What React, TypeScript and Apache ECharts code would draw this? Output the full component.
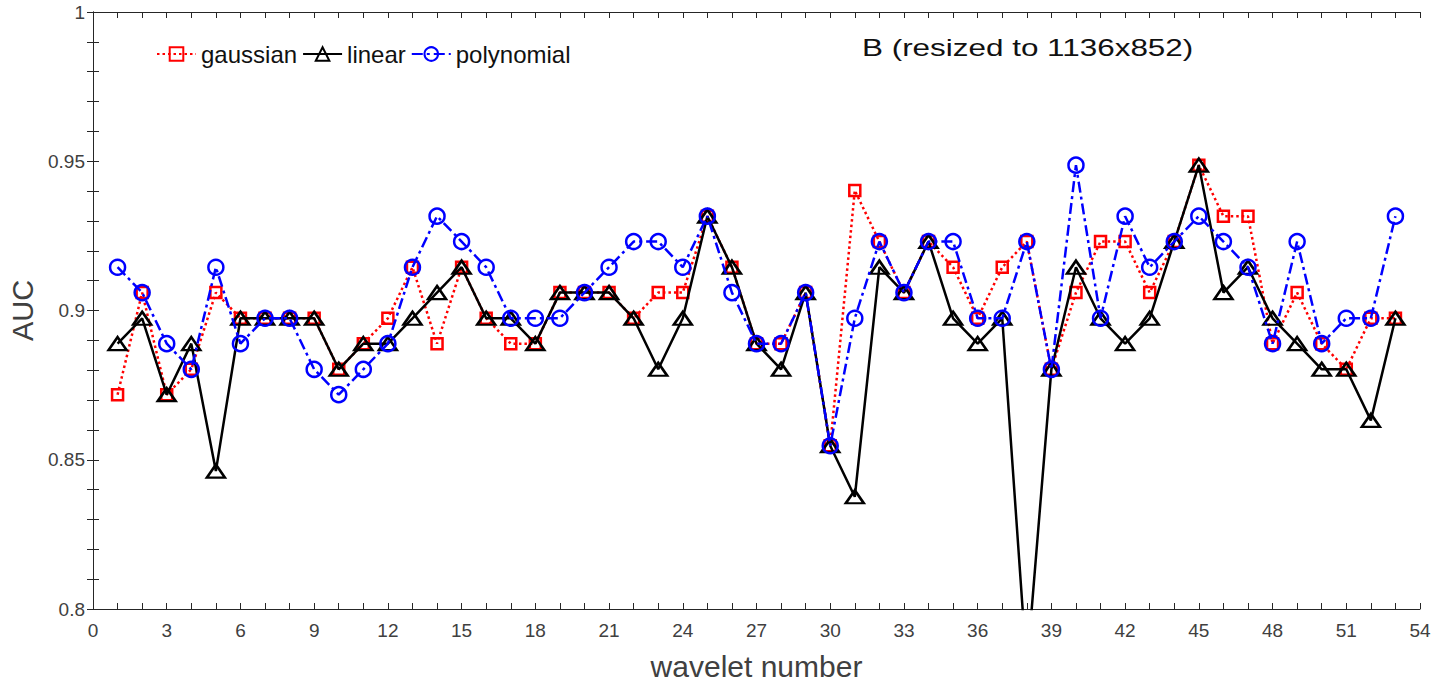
import React, { useEffect, useRef } from "react";
import * as echarts from "echarts";

const waveletNumbers = Array.from({ length: 53 }, (_, i) => i + 1);

const gaussian = [
  0.8718, 0.906, 0.8718, 0.8803, 0.906, 0.8974, 0.8974, 0.8974, 0.8974, 0.8803,
  0.8889, 0.8974, 0.9145, 0.8889, 0.9145, 0.8974, 0.8889, 0.8889, 0.906, 0.906,
  0.906, 0.8974, 0.906, 0.906, 0.9316, 0.9145, 0.8889, 0.8889, 0.906, 0.8547,
  0.9402, 0.9231, 0.906, 0.9231, 0.9145, 0.8974, 0.9145, 0.9231, 0.8803, 0.906,
  0.9231, 0.9231, 0.906, 0.9231, 0.9487, 0.9316, 0.9316, 0.8889, 0.906, 0.8889,
  0.8803, 0.8974, 0.8974,
];

const linear = [
  0.8889, 0.8974, 0.8718, 0.8889, 0.8462, 0.8974, 0.8974, 0.8974, 0.8974, 0.8803,
  0.8889, 0.8889, 0.8974, 0.906, 0.9145, 0.8974, 0.8974, 0.8889, 0.906, 0.906,
  0.906, 0.8974, 0.8803, 0.8974, 0.9316, 0.9145, 0.8889, 0.8803, 0.906, 0.8547,
  0.8376, 0.9145, 0.906, 0.9231, 0.8974, 0.8889, 0.8974, 0.78, 0.8803, 0.9145,
  0.8974, 0.8889, 0.8974, 0.9231, 0.9487, 0.906, 0.9145, 0.8974, 0.8889, 0.8803,
  0.8803, 0.8632, 0.8974,
];

const polynomial = [
  0.9145, 0.906, 0.8889, 0.8803, 0.9145, 0.8889, 0.8974, 0.8974, 0.8803, 0.8718,
  0.8803, 0.8889, 0.9145, 0.9316, 0.9231, 0.9145, 0.8974, 0.8974, 0.8974, 0.906,
  0.9145, 0.9231, 0.9231, 0.9145, 0.9316, 0.906, 0.8889, 0.8889, 0.906, 0.8547,
  0.8974, 0.9231, 0.906, 0.9231, 0.9231, 0.8974, 0.8974, 0.9231, 0.8803, 0.9487,
  0.8974, 0.9316, 0.9145, 0.9231, 0.9316, 0.9231, 0.9145, 0.8889, 0.9231, 0.8889,
  0.8974, 0.8974, 0.9316,
];

const FONT = "'Liberation Sans', Arial, Helvetica, sans-serif";
const AX = "#262626";

export default function App() {
  const ref = useRef<HTMLDivElement>(null);
  useEffect(() => {
    if (!ref.current) return;
    const chart = echarts.init(ref.current, undefined, { renderer: "svg" });
    const pair = (arr: number[]) => arr.map((v, i) => [waveletNumbers[i], v]);
    const axisCommon = {
      axisLine: { show: true, lineStyle: { color: AX, width: 1 } },
      axisTick: { show: true, inside: true, length: 6, lineStyle: { color: AX, width: 1 } },
      splitLine: { show: false },
    };
    chart.setOption({
      animation: false,
      backgroundColor: "#fff",
      grid: { left: 93, top: 12, width: 1327, height: 598, containLabel: false },
      legend: {
        left: 151,
        top: 37,
        itemWidth: 39,
        itemHeight: 17,
        itemGap: 5,
        selectedMode: false,
        textStyle: { fontSize: 24, color: "#111", fontFamily: FONT },
        data: ["gaussian", "linear", "polynomial"],
      },
      graphic: [
        {
          type: "text",
          left: 862,
          top: 36,
          scaleX: 1.31,
          style: { text: "B (resized to 1136x852)", fontSize: 24, fill: "#111", fontFamily: FONT },
        },
      ],
      xAxis: [
        {
          type: "value",
          position: "bottom",
          min: 0,
          max: 54,
          interval: 3,
          ...axisCommon,
          minorTick: { show: true, splitNumber: 3, length: 6, lineStyle: { color: AX, width: 1 } },
          axisLabel: { fontSize: 19, color: "#404040", fontFamily: FONT, margin: 12 },
          name: "wavelet number",
          nameLocation: "middle",
          nameGap: 42,
          nameTextStyle: { fontSize: 30, color: "#404040", fontFamily: FONT },
        },
        {
          type: "value",
          position: "top",
          min: 0,
          max: 54,
          interval: 3,
          ...axisCommon,
          minorTick: { show: true, splitNumber: 3, length: 6, lineStyle: { color: AX, width: 1 } },
          axisLabel: { show: false },
        },
      ],
      yAxis: [
        {
          type: "value",
          position: "left",
          min: 0.8,
          max: 1,
          interval: 0.05,
          ...axisCommon,
          minorTick: { show: true, splitNumber: 5, length: 6, lineStyle: { color: AX, width: 1 } },
          axisLabel: { fontSize: 19, color: "#404040", fontFamily: FONT, margin: 8 },
          name: "AUC",
          nameLocation: "middle",
          nameGap: 56,
          nameTextStyle: { fontSize: 29, color: "#404040", fontFamily: FONT },
        },
        {
          type: "value",
          position: "right",
          min: 0.8,
          max: 1,
          interval: 0.05,
          ...axisCommon,
          minorTick: { show: true, splitNumber: 5, length: 6, lineStyle: { color: AX, width: 1 } },
          axisLabel: { show: false },
        },
      ],
      series: [
        {
          name: "gaussian",
          type: "line",
          clip: true,
          data: pair(gaussian),
          symbol: "rect",
          symbolSize: 11,
          lineStyle: { color: "#ff0000", width: 2.5, type: [2.5, 3] },
          itemStyle: { color: "transparent", borderColor: "#ff0000", borderWidth: 2.5 },
          emphasis: { disabled: true },
          z: 2,
        },
        {
          name: "linear",
          type: "line",
          clip: true,
          data: pair(linear),
          symbol: "triangle",
          symbolSize: [18, 13],
          lineStyle: { color: "#000000", width: 2.5, type: "solid" },
          itemStyle: { color: "transparent", borderColor: "#000000", borderWidth: 2.5 },
          emphasis: { disabled: true },
          z: 3,
        },
        {
          name: "polynomial",
          type: "line",
          clip: true,
          data: pair(polynomial),
          symbol: "circle",
          symbolSize: 15,
          lineStyle: { color: "#0000ff", width: 2.5, type: [11, 4, 3, 4] },
          itemStyle: { color: "transparent", borderColor: "#0000ff", borderWidth: 2.5 },
          emphasis: { disabled: true },
          z: 4,
        },
      ],
    });
    return () => chart.dispose();
  }, []);
  return (
    <div
      ref={ref}
      style={{ position: "absolute", left: 0, top: 0, width: 1450, height: 686 }}
    />
  );
}
